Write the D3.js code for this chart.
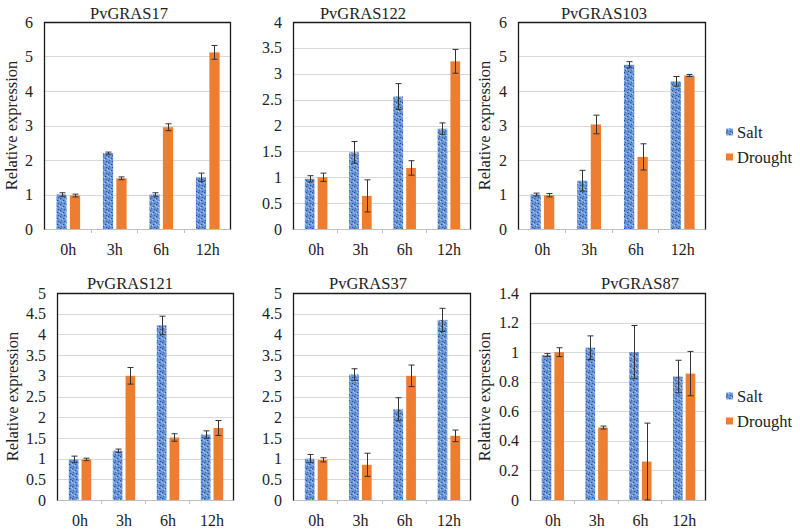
<!DOCTYPE html>
<html>
<head>
<meta charset="utf-8">
<script src="https://cdn.jsdelivr.net/npm/d3@7"></script>
</head>
<body style="margin:0;background:#fff">
<svg id="chart" width="800" height="531" style="display:block"></svg>
<script>
// ---------- DATA ----------
const categories = ["0h", "3h", "6h", "12h"];
const seriesNames = ["Salt", "Drought"];
const genes = ["PvGRAS17", "PvGRAS122", "PvGRAS103", "PvGRAS121", "PvGRAS37", "PvGRAS87"];

const saltValues = [
  [1.00, 2.20, 1.00, 1.50],
  [0.97, 1.48, 2.56, 1.94],
  [1.00, 1.40, 4.76, 4.28],
  [0.98, 1.19, 4.22, 1.58],
  [1.00, 3.03, 2.19, 4.35],
  [0.98, 1.03, 1.00, 0.835]
];
const saltErrors = [
  [0.05, 0.03, 0.05, 0.12],
  [0.06, 0.21, 0.25, 0.11],
  [0.04, 0.30, 0.09, 0.14],
  [0.08, 0.04, 0.22, 0.09],
  [0.10, 0.14, 0.28, 0.28],
  [0.01, 0.08, 0.18, 0.11]
];
const droughtValues = [
  [0.97, 1.47, 2.95, 5.12],
  [1.00, 0.64, 1.18, 3.24],
  [0.98, 3.03, 2.09, 4.45],
  [0.98, 3.00, 1.51, 1.74],
  [0.97, 0.85, 3.00, 1.55],
  [1.00, 0.49, 0.26, 0.855]
];
const droughtErrors = [
  [0.04, 0.04, 0.10, 0.20],
  [0.08, 0.31, 0.14, 0.23],
  [0.05, 0.27, 0.38, 0.03],
  [0.03, 0.20, 0.09, 0.18],
  [0.05, 0.28, 0.26, 0.14],
  [0.03, 0.01, 0.26, 0.15]
];
const yMax = [6, 4, 6, 5, 5, 1.4];
const yStep = [1, 0.5, 1, 0.5, 0.5, 0.2];
const yLabel = "Relative expression";

// ---------- LAYOUT ----------
const panels = [
  {x0: 44,  x1: 230, y0: 22,  y1: 229, tx: 129, ty: 13,  ylab: true,  ylx: 11,  legend: false},
  {x0: 293, x1: 470, y0: 22,  y1: 229, tx: 363, ty: 13,  ylab: false, legend: false},
  {x0: 518, x1: 705, y0: 22,  y1: 229, tx: 604, ty: 13,  ylab: true,  ylx: 484, legend: true, ly: 132},
  {x0: 57,  x1: 233, y0: 293, y1: 500, tx: 130, ty: 283, ylab: true,  ylx: 12,  legend: false},
  {x0: 293, x1: 470, y0: 293, y1: 500, tx: 368, ty: 283, ylab: false, legend: false},
  {x0: 530, x1: 705, y0: 293, y1: 500, tx: 640, ty: 283, ylab: true,  ylx: 484, legend: true, ly: 396}
];

const svg = d3.select("#chart");
svg.append("rect").attr("width", 800).attr("height", 531).attr("fill", "#fff");
const defs = svg.append("defs");

// speckled blue pattern for Salt
const pat = defs.append("pattern")
  .attr("id", "saltPat").attr("patternUnits", "userSpaceOnUse")
  .attr("width", 6).attr("height", 6);
pat.append("rect").attr("width", 6).attr("height", 6).attr("fill", "#6b98d8");
[[0,0,"#2b4f9c"],[3,2,"#2b4f9c"],[1,4,"#3a64b0"],[4,5,"#2b4f9c"],[5,1,"#a8c6ef"],[2,3,"#b5d0f3"],[0,2,"#9dbcea"]]
  .forEach(([x,y,c]) => pat.append("rect").attr("x", x).attr("y", y).attr("width", 1.3).attr("height", 1.3).attr("fill", c));

const droughtColor = "#ed7d31";
const fmt = v => (Math.round(v * 10) / 10).toString();

function addText(parent) {
  return parent.append("text").attr("font-family", "Liberation Serif").attr("fill", "#222");
}

panels.forEach((p, i) => {
  const g = svg.append("g");
  const x = d3.scaleBand().domain(categories).range([p.x0, p.x1]);
  const y = d3.scaleLinear().domain([0, yMax[i]]).range([p.y1, p.y0]);
  const ticks = d3.range(0, yMax[i] + yStep[i] / 2, yStep[i]);

  // gridlines
  g.append("g").selectAll("line").data(ticks.filter(t => t > 0 && t < yMax[i] - 1e-9)).join("line")
    .attr("x1", p.x0).attr("x2", p.x1)
    .attr("y1", d => Math.round(y(d)) + 0.5).attr("y2", d => Math.round(y(d)) + 0.5)
    .attr("stroke", "#d9d9d9").attr("stroke-width", 1);

  // y tick labels from the scale
  ticks.forEach(t => {
    addText(g).attr("x", p.x0 - 11).attr("y", y(t)).attr("dy", "0.35em")
      .attr("text-anchor", "end").attr("font-size", 16).text(fmt(t));
  });

  // x labels
  categories.forEach(c => {
    addText(g).attr("x", x(c) + x.bandwidth() / 2 + 1).attr("y", p.y1 + 20).attr("dy", "0.35em")
      .attr("text-anchor", "middle").attr("font-size", 16).text(c);
  });
  // category separator ticks + baseline
  g.append("g").selectAll("line").data(categories.slice(1)).join("line")
    .attr("x1", d => Math.round(x(d)) + 0.5).attr("x2", d => Math.round(x(d)) + 0.5)
    .attr("y1", p.y1).attr("y2", p.y1 + 4).attr("stroke", "#bfbfbf");
  g.append("line").attr("x1", p.x0).attr("x2", p.x1)
    .attr("y1", p.y1 + 0.5).attr("y2", p.y1 + 0.5).attr("stroke", "#bfbfbf");

  // bars
  const bw = x.bandwidth() * 0.22;
  const gap = x.bandwidth() * 0.07;
  const sx = d => x(d) + x.bandwidth() / 2 - gap / 2 - bw + 1;
  const dx = d => x(d) + x.bandwidth() / 2 + gap / 2 + 1;

  g.append("g").selectAll("rect").data(categories).join("rect")
    .attr("x", d => sx(d)).attr("width", bw)
    .attr("y", (d, j) => y(saltValues[i][j]))
    .attr("height", (d, j) => p.y1 - y(saltValues[i][j]))
    .attr("fill", "url(#saltPat)");
  g.append("g").selectAll("rect").data(categories).join("rect")
    .attr("x", d => dx(d)).attr("width", bw)
    .attr("y", (d, j) => y(droughtValues[i][j]))
    .attr("height", (d, j) => p.y1 - y(droughtValues[i][j]))
    .attr("fill", droughtColor);

  // error bars
  const drawErr = (vals, errs, cx) => {
    const eg = g.append("g").attr("stroke", "#333").attr("stroke-width", 1);
    categories.forEach((c, j) => {
      const xc = Math.round(cx(c)) + 0.5;
      const top = y(vals[j] + errs[j]), bot = y(Math.max(0, vals[j] - errs[j]));
      eg.append("line").attr("x1", xc).attr("x2", xc).attr("y1", top).attr("y2", bot);
      eg.append("line").attr("x1", xc - 3).attr("x2", xc + 3).attr("y1", top).attr("y2", top);
      eg.append("line").attr("x1", xc - 3).attr("x2", xc + 3).attr("y1", bot).attr("y2", bot);
    });
  };
  drawErr(saltValues[i], saltErrors[i], d => sx(d) + bw / 2);
  drawErr(droughtValues[i], droughtErrors[i], d => dx(d) + bw / 2);

  // frame: left, top, right
  g.append("path")
    .attr("d", `M${p.x0 + 0.5},${p.y1 + 0.5}V${p.y0 + 0.5}H${p.x1 + 0.5}V${p.y1 + 0.5}`)
    .attr("fill", "none").attr("stroke", "#1a1a1a").attr("stroke-width", 1.3);

  // title
  addText(g).attr("x", p.tx).attr("y", p.ty).attr("dy", "0.35em")
    .attr("text-anchor", "middle").attr("font-size", 16.5).text(genes[i]);

  // y label
  if (p.ylab) {
    addText(g)
      .attr("transform", `translate(${p.ylx},${(p.y0 + p.y1) / 2}) rotate(-90)`)
      .attr("dy", "0.35em").attr("text-anchor", "middle").attr("font-size", 16.5).text(yLabel);
  }

  // legend
  if (p.legend) {
    seriesNames.forEach((s, k) => {
      const ly = p.ly + k * 25;
      g.append("rect").attr("x", 726).attr("y", ly - 3.5).attr("width", 7).attr("height", 7)
        .attr("fill", k === 0 ? "url(#saltPat)" : droughtColor);
      addText(g).attr("x", 737).attr("y", ly).attr("dy", "0.35em")
        .attr("font-size", 16.5).text(s);
    });
  }
});
</script>
</body>
</html>
